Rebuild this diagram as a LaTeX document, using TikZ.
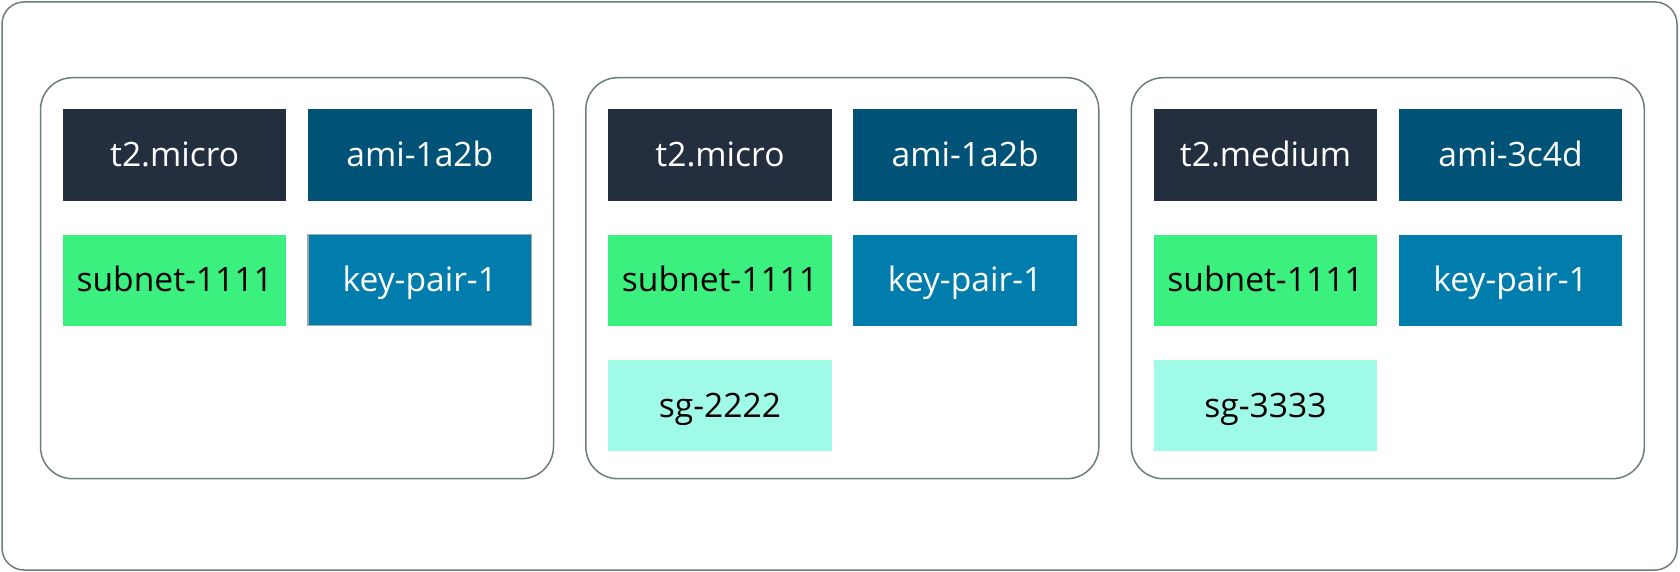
\documentclass[tikz,border=0pt]{standalone}
\usepackage{fontspec}
\setmainfont{Open Sans}
\definecolor{squid}{RGB}{35,47,62}
\definecolor{amiblue}{RGB}{0,82,118}
\definecolor{keyblue}{RGB}{0,124,173}
\definecolor{subgreen}{RGB}{60,240,128}
\definecolor{sgmint}{RGB}{160,250,232}
\definecolor{frame}{RGB}{110,124,124}
\begin{document}
\begin{tikzpicture}[x=0.5pt,y=-0.5pt,
  tag/.style={minimum width=111.75pt,minimum height=45.65pt,inner sep=0pt,text height=11.8pt,text depth=0pt,font=\fontsize{16.8}{19}\selectfont},
  inst/.style={tag,fill=squid,text=white},
  ami/.style={tag,fill=amiblue,text=white},
  key/.style={tag,fill=keyblue,text=white},
  subn/.style={tag,fill=subgreen,text=black},
  sg/.style={tag,fill=sgmint,text=black},
  panel/.style={draw=frame,line width=0.75pt,rounded corners=16pt,minimum width=256.5pt,minimum height=200.5pt,inner sep=0pt},
  outer/.style={draw=frame,line width=0.75pt,rounded corners=11pt,minimum width=837.5pt,minimum height=284pt,inner sep=0pt}]
\useasboundingbox (0,0) rectangle (1680,572);
\node[outer] (all) at (839.5,286) {};
% panel 1
\node[panel] (p1) at (297,278.2) {};
\node[inst] (p1a) at (174.7,155) {t2.micro};
\node[ami] (p1b) at (419.8,155) {ami-1a2b};
\node[subn] (p1c) at (174.7,280.2) {subnet-1111};
\node[key,draw=gray!70,line width=0.6pt] (p1d) at (419.8,280.2) {key-pair-1};
% panel 2
\node[panel] (p2) at (842.3,278.2) {};
\node[inst] (p2a) at (720,155) {t2.micro};
\node[ami] (p2b) at (965.1,155) {ami-1a2b};
\node[subn] (p2c) at (720,280.2) {subnet-1111};
\node[key] (p2d) at (965.1,280.2) {key-pair-1};
\node[sg] (p2e) at (720,405.7) {sg-2222};
% panel 3
\node[panel] (p3) at (1387.8,278.2) {};
\node[inst] (p3a) at (1265.5,155) {t2.medium};
\node[ami] (p3b) at (1510.6,155) {ami-3c4d};
\node[subn] (p3c) at (1265.5,280.2) {subnet-1111};
\node[key] (p3d) at (1510.6,280.2) {key-pair-1};
\node[sg] (p3e) at (1265.5,405.7) {sg-3333};
\end{tikzpicture}
\end{document}
